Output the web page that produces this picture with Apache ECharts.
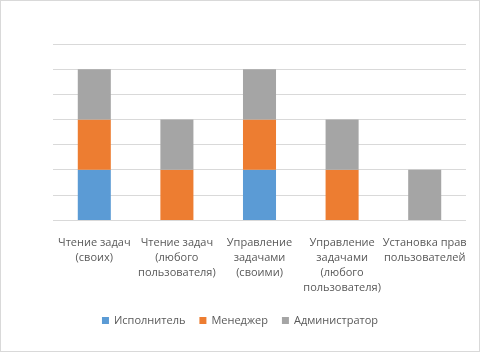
<!DOCTYPE html>
<html lang="ru">
<head>
<meta charset="UTF-8">
<title>Права ролей</title>
<script src="https://cdn.jsdelivr.net/npm/echarts@6/dist/echarts.min.js"></script>
<style>
  html, body { margin: 0; padding: 0; background: #fff; }
  #chart { width: 478px; height: 350px; border: 1px solid #d9d9d9; }
</style>
</head>
<body>
<div id="chart"></div>
<script>
  // категории (подписи с переносами как на картинке)
  const categories = [
    'Чтение задач\n(своих)',
    'Чтение задач\n(любого\nпользователя)',
    'Управление\nзадачами\n(своими)',
    'Управление\nзадачами\n(любого\nпользователя)',
    'Установка прав\nпользователей'
  ];
  const seriesNames = ['Исполнитель', 'Менеджер', 'Администратор'];
  const ispolnitel = [1, 0, 1, 0, 0];
  const menedzher = [1, 1, 1, 1, 0];
  const administrator = [1, 1, 1, 1, 1];
  const colors = ['#5b9bd5', '#ed7d31', '#a5a5a5'];

  const chart = echarts.init(document.getElementById('chart'));
  const font = '"Open Sans", "Noto Sans", sans-serif';

  chart.setOption({
    animation: false,
    color: colors,
    grid: { left: 52, right: 13, top: 43, bottom: 131 },
    legend: {
      bottom: 20,
      left: 'center',
      itemWidth: 7,
      itemHeight: 7,
      itemGap: 14,
      icon: 'rect',
      textStyle: { color: '#595959', fontSize: 11, fontFamily: font }
    },
    xAxis: {
      type: 'category',
      data: categories,
      axisLine: { show: false },
      axisTick: { show: false },
      axisLabel: {
        color: '#595959', fontSize: 11, fontFamily: font,
        lineHeight: 15, margin: 15, interval: 0
      }
    },
    yAxis: {
      type: 'value',
      min: 0, max: 3.5, interval: 0.5,
      axisLabel: { show: false },
      splitLine: { lineStyle: { color: '#d9d9d9', width: 1 } }
    },
    series: [
      { name: seriesNames[0], type: 'bar', stack: 'r', data: ispolnitel, barWidth: '40%' },
      { name: seriesNames[1], type: 'bar', stack: 'r', data: menedzher, barWidth: '40%' },
      { name: seriesNames[2], type: 'bar', stack: 'r', data: administrator, barWidth: '40%' }
    ]
  });
</script>
</body>
</html>
